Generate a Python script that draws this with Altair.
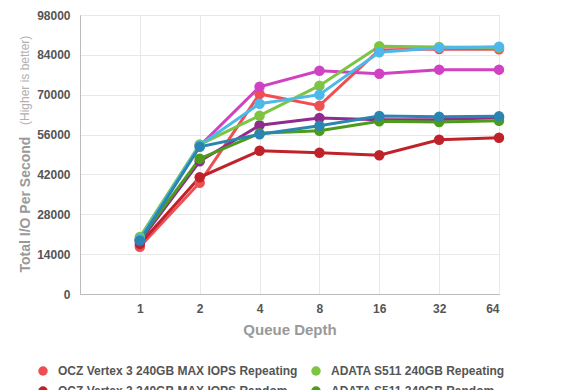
import altair as alt
import pandas as pd

queue_depth = [1, 2, 4, 8, 16, 32, 64]

series_names = [
    "OCZ Vertex 3 240GB MAX IOPS Repeating",
    "OCZ Vertex 3 240GB MAX IOPS Random",
    "Intel 520 240GB Repeating",
    "Intel 520 240GB Random",
    "ADATA S511 240GB Repeating",
    "ADATA S511 240GB Random",
    "OCZ Vertex 3 240GB Repeating",
    "OCZ Vertex 3 240GB Random",
]
series_colors = [
    "#ef4f53", "#c0222a", "#d042c2", "#922b8f",
    "#7ec443", "#4c9c1a", "#4cb9ea", "#2a86b1",
]

ocz_max_repeating = [16600, 39100, 70250, 66150, 85700, 86060, 85950]
ocz_max_random = [17600, 41000, 50340, 49640, 48710, 54200, 54910]
intel_repeating = [19000, 52000, 72800, 78440, 77390, 78800, 78800]
intel_random = [18500, 46600, 59250, 61820, 61200, 61300, 61900]
adata_repeating = [20000, 52500, 62640, 73170, 87000, 86760, 86530]
adata_random = [19200, 47520, 56430, 57370, 60650, 60410, 60880]
ocz_repeating = [19320, 52230, 66850, 70010, 84890, 86530, 86870]
ocz_random = [18800, 51700, 56080, 59120, 62520, 62280, 62400]

series_values = [
    ocz_max_repeating, ocz_max_random, intel_repeating, intel_random,
    adata_repeating, adata_random, ocz_repeating, ocz_random,
]

y_ticks = [0, 14000, 28000, 42000, 56000, 70000, 84000, 98000]

rows = []
for name, vals in zip(series_names, series_values):
    for qd, v in zip(queue_depth, vals):
        rows.append({"series": name, "qd": qd, "iops": v})
df = pd.DataFrame(rows)

FONT = "Liberation Sans"

color = alt.Color(
    "series:N",
    scale=alt.Scale(domain=series_names, range=series_colors),
    sort=series_names,
    legend=alt.Legend(
        title=None,
        orient="none",
        legendX=-43,
        legendY=350,
        columns=2,
        columnPadding=12,
        rowPadding=8,
        symbolType="circle",
        symbolSize=90,
        symbolStrokeWidth=0,
        labelFont=FONT,
        labelFontSize=12,
        labelFontWeight="bold",
        labelColor="#555555",
        labelOffset=9,
        labelLimit=400,
    ),
)

x = alt.X(
    "qd:Q",
    scale=alt.Scale(type="log", base=2, domain=[0.5, 64]),
    axis=alt.Axis(
        values=queue_depth,
        format="d",
        title="Queue Depth",
        ticks=False,
        labelPadding=9,
        labelFont=FONT,
        labelFontSize=12,
        labelFontWeight="bold",
        labelColor="#555555",
        titleFont=FONT,
        titleFontSize=15,
        titleFontWeight="bold",
        titleColor="#999999",
        titlePadding=8,
        domainColor="#bbbbbb",
        gridColor="#e8e8e8",
    ),
)

y = alt.Y(
    "iops:Q",
    scale=alt.Scale(domain=[0, 98000], nice=False),
    axis=alt.Axis(
        values=y_ticks,
        format="d",
        title="Total I/O Per Second",
        titleX=-55,
        titleY=257,
        titleAngle=270,
        titleAlign="left",
        titleBaseline="middle",
        ticks=False,
        labelPadding=10,
        labelFont=FONT,
        labelFontSize=12,
        labelFontWeight="bold",
        labelColor="#555555",
        titleFont=FONT,
        titleFontSize=14,
        titleFontWeight="bold",
        titleColor="#999999",
        domainColor="#bbbbbb",
        gridColor="#e8e8e8",
    ),
)

lines = alt.Chart(df).mark_line(strokeWidth=3).encode(
    x=x, y=y, color=color, order="qd:Q"
)
points = alt.Chart(df).mark_circle(size=110, opacity=1).encode(
    x=x, y=y, color=color
)

note = alt.Chart(pd.DataFrame({"t": ["(Higher is better)"]})).mark_text(
    angle=270, align="left", baseline="middle", font=FONT, fontSize=12,
    color="#b0b0b0",
).encode(x=alt.value(-55), y=alt.value(110), text="t:N")

chart = alt.layer(lines, points, note).properties(
    width=419,
    height=279,
    autosize=alt.AutoSizeParams(type="none"),
    padding={"left": 72, "top": 7, "right": 60, "bottom": 96},
).configure_view(stroke="#bbbbbb")

chart.save("out.html", embed_options={"renderer": "svg", "actions": False})
